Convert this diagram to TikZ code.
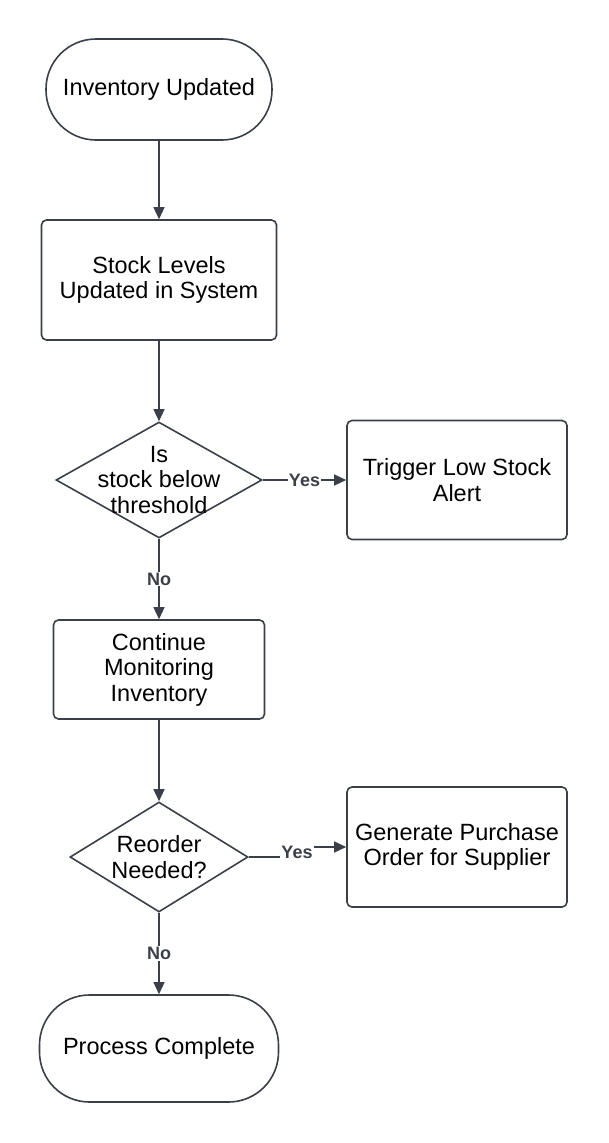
\documentclass[tikz,border=0pt]{standalone}
\usepackage{fontspec}
\setmainfont{Liberation Sans}
\usetikzlibrary{shapes.geometric,arrows.meta}
\definecolor{linegray}{HTML}{3B3F48}
\begin{document}
\begin{tikzpicture}
    [
    x=1pt, y=-1pt,
    every node/.style={font=\fontsize{23.5}{25.5}\selectfont, align=center},
    terminal/.style={rectangle,draw=linegray,line width=1.6pt,rounded corners=50pt,inner sep=0pt},
    process/.style={rectangle,draw=linegray,line width=1.6pt,rounded corners=5pt,inner sep=0pt},
    decision/.style={diamond,draw=linegray,line width=1.6pt,inner xsep=-25pt,inner ysep=-20pt},
    lbl/.style={fill=white,inner sep=1pt,text=linegray,font=\fontsize{18}{20}\selectfont\bfseries},
    arr/.style={draw=linegray,line width=1.3pt,-{Triangle[length=12pt,width=11pt]}}
    ]
    \useasboundingbox (0,0) rectangle (608,1143);
    \node (start) at (159,89.5) [terminal, minimum width=226pt, minimum height=101pt] {Inventory Updated};
    \node (stock) at (159,280) [process, minimum width=235pt, minimum height=120pt] {Stock Levels\\Updated in System};
    \node (below) at (159,480) [decision, minimum width=206pt, minimum height=116pt] {Is\\stock below\\threshold};
    \node (alert) at (457,480) [process, minimum width=220pt, minimum height=119pt] {Trigger Low Stock\\Alert};
    \node (monitor) at (159,669.5) [process, minimum width=211pt, minimum height=99pt] {Continue\\Monitoring\\Inventory};
    \node (reorder) at (159,857) [decision, minimum width=178pt, minimum height=110pt] {Reorder\\Needed?};
    \node (order) at (457,847) [process, minimum width=220pt, minimum height=120pt] {Generate Purchase\\Order for Supplier};
    \node (done) at (159,1048.5) [terminal, minimum width=239pt, minimum height=107pt] {Process Complete};
    \node (yes2) at (297,852) [lbl] {Yes};
    \draw [arr] (start) to (stock);
    \draw [arr] (stock) to (below);
    \draw [arr] (below) to node [lbl] {Yes} (alert);
    \draw [arr] (below) to node [lbl] {No} (monitor);
    \draw [arr] (monitor) to (reorder);
    \draw [linegray, line width=1.3pt] (reorder.east) to (reorder.east -| yes2.west);
    \draw [arr] (yes2.east |- order.west) to (order.west);
    \draw [arr] (reorder) to node [lbl] {No} (done);
\end{tikzpicture}
\end{document}
